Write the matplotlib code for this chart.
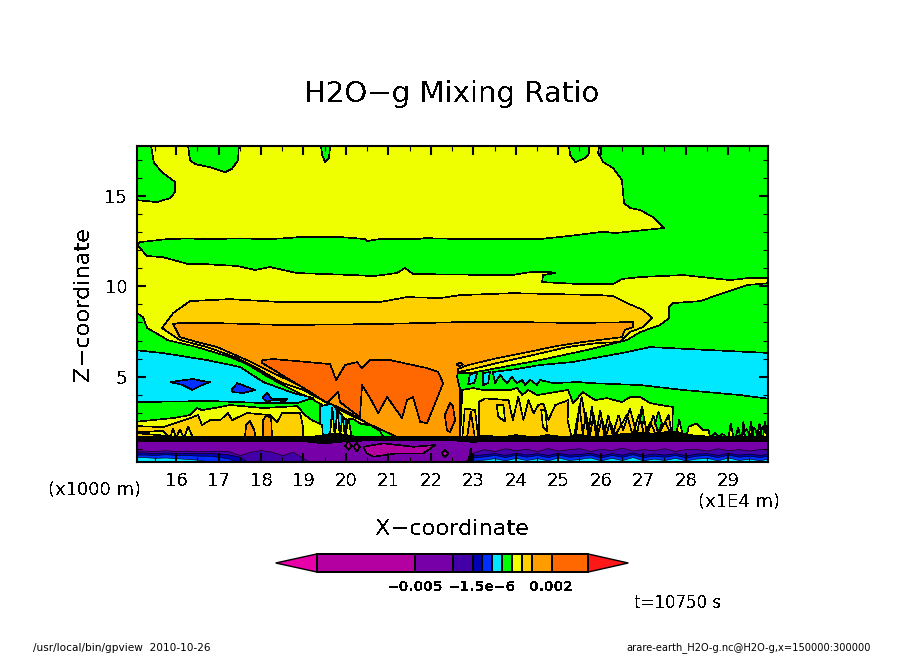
import numpy as np
import matplotlib
matplotlib.use('Agg')
import matplotlib.pyplot as plt

plt.rcParams['font.family'] = ['DejaVu Sans']
plt.rcParams['text.antialiased'] = False

WIDTH, HEIGHT = 904, 654

# shading colours, one per contour interval
MAGENTA_END = '#e800a8'
MAGENTA = '#b400a0'
PURPLE = '#7800a8'
INDIGO = '#4400a8'
DARK_BLUE = '#0000b4'
BLUE = '#0030ff'
CYAN = '#00e8ff'
GREEN = '#00ff00'
YELLOW = '#f0ff00'
GOLD = '#ffd000'
ORANGE = '#ff9c00'
DARK_ORANGE = '#ff6800'
RED_END = '#ff1818'

x_ticks = list(range(16, 30))
z_ticks = [5, 10, 15]

# contour regions, x in 1e4 m, z in km
upper_yellow_x = [15.41, 15.48, 15.69, 15.98, 15.98, 15.86, 15.55, 15.08, 15.08, 15.15, 15.81, 16.28, 16.68, 17.51,
                  18.21, 18.61, 18.92, 19.86, 20.45, 20.5, 20.8, 21.68, 21.86, 22.69, 24.57, 25.11, 26.06, 26.34,
                  27.0, 27.49, 27.23, 26.93, 26.69, 26.55, 26.5, 26.29, 26.06, 25.94, 25.96]
upper_yellow_z = [17.75, 16.81, 16.26, 15.76, 15.21, 14.87, 14.65, 14.76, 12.28, 12.44, 12.61, 12.64, 12.61, 12.64,
                  12.61, 12.66, 12.72, 12.72, 12.61, 12.5, 12.61, 12.61, 12.66, 12.61, 12.61, 12.74, 13.01, 12.94,
                  13.1, 13.22, 13.82, 14.21, 14.32, 14.6, 15.87, 16.53, 16.86, 17.36, 17.75]
blob1_x = [16.28, 16.31, 16.33, 16.45, 16.8, 17.15, 17.32, 17.46, 17.48]
blob1_z = [17.8, 17.25, 16.97, 16.75, 16.58, 16.3, 16.5, 16.97, 17.8]
blob2_x = [19.41, 19.44, 19.51, 19.6, 19.63]
blob2_z = [17.8, 17.25, 16.86, 17.08, 17.8]
blob3_x = [25.25, 25.28, 25.4, 25.63, 25.73, 25.73]
blob3_z = [17.8, 17.25, 16.86, 17.08, 17.36, 17.8]

lower_yellow_x = [15.08, 15.32, 15.69, 16.28, 16.64, 17.44, 17.86, 18.21, 18.85, 20.17, 20.64, 21.2, 21.39, 21.58,
                  22.69, 23.23, 23.91, 24.34, 24.81, 24.93, 24.64, 24.62, 25.51, 26.29, 26.5, 26.93, 27.94, 29.05,
                  29.45, 30.0, 30.0, 29.45, 28.88, 28.34, 27.7, 27.61, 27.61, 27.4, 26.93, 26.62, 25.68, 24.57,
                  23.56, 22.92, 22.64, 22.0, 20.26, 19.44, 19.2, 18.85, 18.21, 17.67, 17.27, 16.49, 15.79, 15.69,
                  15.32, 15.22, 15.08]
lower_yellow_z = [12.28, 11.67, 11.61, 11.23, 11.23, 11.12, 10.9, 11.06, 10.73, 10.62, 10.56, 10.73, 11.01, 10.67,
                  10.65, 10.62, 10.62, 10.78, 10.78, 10.73, 10.62, 10.23, 10.12, 10.12, 10.4, 10.51, 10.62, 10.34,
                  10.45, 10.45, 10.18, 10.07, 9.62, 9.18, 9.07, 8.85, 8.24, 7.86, 7.47, 7.03, 6.48, 5.92,
                  5.48, 5.2, 5.2, 3.0, 2.31, 3.44, 3.77, 4.15, 4.93, 5.7, 6.09, 6.64, 7.03, 7.19,
                  7.69, 8.3, 8.52]
gold_x = [15.67, 15.93, 16.33, 17.27, 18.45, 19.93, 20.8, 21.44, 22.22, 22.69, 23.94, 25.98, 26.29, 26.62, 27.0,
          27.21, 27.0, 26.69, 26.46, 25.91, 25.21, 24.41, 23.56, 22.88, 22.64, 22.0, 21.04, 20.1, 19.56, 18.99,
          18.45, 17.91, 17.44, 16.73, 16.09]
gold_z = [7.69, 8.52, 9.18, 9.29, 9.13, 9.13, 9.13, 9.4, 9.35, 9.51, 9.62, 9.51, 9.46, 9.07, 8.69,
          8.24, 7.75, 7.47, 6.92, 6.86, 6.64, 6.2, 5.76, 5.37, 5.26, 2.5, 1.89, 2.88, 3.55, 4.27,
          4.71, 5.48, 6.04, 6.64, 7.03]
orange_x = [15.93, 16.09, 16.87, 18.52, 20.73, 22.69, 24.1, 25.4, 26.76, 26.76, 26.57, 26.5, 25.58, 24.97, 24.27,
            23.56, 22.88, 22.64, 22.62, 22.69, 22.69, 21.2, 20.5, 20.1, 19.56, 18.99, 18.29, 17.67, 16.97, 16.49,
            16.09]
orange_z = [7.91, 7.97, 7.97, 7.86, 7.91, 8.02, 8.02, 7.97, 8.02, 7.75, 7.58, 7.19, 6.92, 6.7, 6.36,
            6.03, 5.65, 5.43, 4.98, 4.27, 1.67, 1.67, 2.44, 2.99, 3.6, 4.43, 5.2, 5.92, 6.64, 6.92,
            7.19]
nose_x = [22.6, 22.68, 22.76, 22.68]
nose_z = [5.68, 5.78, 5.68, 5.58]
dark_orange_x = [18.03, 18.29, 19.63, 19.77, 19.98, 20.26, 20.38, 20.57, 21.04, 21.91, 22.17, 22.29, 22.15, 21.91,
                 21.75, 21.58, 21.44, 21.32, 20.97, 20.76, 20.57, 20.38, 20.33, 20.17, 19.86, 19.82, 19.56, 19.08,
                 18.38, 18.03]
dark_orange_z = [5.92, 5.98, 5.7, 4.82, 5.65, 5.81, 5.48, 5.92, 5.92, 5.48, 5.26, 4.65, 3.82, 2.44,
                 2.5, 3.88, 3.71, 2.72, 3.88, 2.99, 3.82, 4.54, 2.77, 3.05, 3.6, 4.15, 3.55, 4.27,
                 5.26, 5.76]
lens_x = [22.45, 22.33, 22.38, 22.45, 22.57, 22.52]
lens_z = [3.55, 2.88, 2.05, 1.94, 2.6, 3.38]

right_cyan_x = [23.46, 24.03, 24.57, 25.33, 26.5, 27.16, 28.51, 30.0, 30.0, 29.28, 27.94, 26.93, 25.75, 25.47, 24.88,
                24.57, 24.5, 24.34, 24.22, 24.15, 24.03, 23.91, 23.79, 23.63, 23.51]
right_cyan_z = [5.26, 5.43, 5.65, 5.81, 6.31, 6.64, 6.48, 6.31, 3.77, 3.99, 4.27, 4.54, 4.65, 4.71, 4.65,
                4.82, 4.54, 4.82, 4.54, 4.82, 4.65, 4.98, 4.65, 5.09, 4.65]
cyan_patch1_x = [23.23, 23.39, 23.35, 23.23]
cyan_patch1_z = [5.2, 5.26, 4.65, 4.54]
cyan_patch2_x = [22.92, 23.09, 23.02, 22.88]
cyan_patch2_z = [5.15, 5.2, 4.65, 4.6]
left_cyan_x = [15.0, 15.69, 16.73, 17.51, 18.05, 18.76, 19.23, 18.85, 18.05, 16.8, 15.0]
left_cyan_z = [6.48, 6.31, 5.92, 5.54, 4.71, 4.1, 3.83, 3.55, 3.55, 3.66, 3.6]
blue_patch1_x = [15.86, 16.4, 16.61, 16.8, 16.61, 16.38, 16.16]
blue_patch1_z = [4.71, 4.88, 4.77, 4.71, 4.54, 4.27, 4.54]
blue_patch2_x = [17.3, 17.44, 17.86, 17.58, 17.34]
blue_patch2_z = [4.27, 4.65, 4.27, 4.1, 4.15]
blue_patch3_x = [18.03, 18.14, 18.26, 18.61, 18.57, 18.26, 18.14]
blue_patch3_z = [3.83, 4.1, 3.77, 3.77, 3.66, 3.71, 3.6]

left_yellow_x = [15.0, 15.93, 16.33, 16.49, 16.61, 17.04, 17.27, 18.05, 18.85, 19.04, 19.2, 19.44, 19.46, 15.0]
left_yellow_z = [2.5, 2.72, 2.88, 3.27, 3.16, 3.33, 3.44, 3.27, 3.38, 2.88, 2.6, 2.33, 1.6, 1.6]
left_gold_x = [15.0, 15.69, 16.33, 16.52, 16.61, 16.8, 17.04, 17.22, 17.32, 17.67, 18.21, 18.38, 18.5, 18.92, 18.99,
               18.99, 15.0]
left_gold_z = [2.28, 2.22, 2.72, 2.88, 2.33, 2.6, 2.6, 3.0, 2.6, 3.0, 2.88, 2.5, 3.0, 3.0, 2.22,
               1.6, 1.6]
left_valley_x = [15.0, 15.69, 15.86, 15.93, 16.0, 16.09, 16.19, 16.28, 16.4]
left_valley_z = [1.9, 2.02, 1.6, 2.16, 1.6, 2.1, 1.6, 2.27, 1.6]
orange_lens1_x = [17.62, 17.65, 17.74, 17.84, 17.88]
orange_lens1_z = [1.6, 2.33, 2.55, 2.05, 1.6]
orange_lens2_x = [18.05, 18.05, 18.12, 18.24, 18.26]
orange_lens2_z = [1.6, 2.6, 2.88, 2.72, 1.6]
mid_cyan_x = [19.39, 19.67, 19.98, 20.2, 20.5, 20.3, 19.87, 19.39]
mid_cyan_z = [3.38, 3.5, 2.66, 2.2, 1.6, 1.6, 1.6, 1.6]
mid_green_x = [20.0, 20.15, 20.35, 20.6, 20.8, 20.9, 20.0]
mid_green_z = [2.6, 2.7, 2.4, 2.3, 2.0, 1.6, 1.6]
mid_yellow_x = [19.62, 19.68, 19.74, 19.8, 19.86, 19.92, 19.98, 20.06, 20.14]
mid_yellow_z = [1.6, 3.3, 1.6, 3.3, 1.6, 2.9, 1.6, 2.7, 1.6]

right_yellow_x = [22.74, 22.99, 23.23, 23.87, 24.03, 24.15, 24.29, 24.5, 25.23, 25.35, 25.58, 25.87, 26.15, 26.5,
                  26.69, 26.93, 27.16, 27.4, 27.7, 27.68, 22.69]
right_yellow_z = [4.27, 4.38, 4.27, 4.27, 4.38, 3.99, 4.27, 3.99, 4.27, 3.55, 4.15, 3.71, 3.82, 3.6,
                  3.88, 3.88, 3.55, 3.44, 3.33, 1.6, 1.6]
right_gold_x = [23.14, 23.28, 23.83, 23.93, 24.06, 24.18, 24.3, 24.42, 24.53, 24.65, 24.77, 24.93, 25.24, 25.22,
                25.32, 23.14]
right_gold_z = [3.62, 3.8, 3.71, 2.61, 3.9, 2.61, 3.71, 2.98, 3.44, 3.53, 2.61, 3.44, 3.71, 2.61,
                1.6, 1.6]
gold_hole1_x = [23.55, 23.71, 23.75, 23.59]
gold_hole1_z = [3.44, 3.44, 2.52, 2.79]
gold_hole2_x = [24.6, 24.7, 24.74, 24.64]
gold_hole2_z = [3.2, 3.1, 2.0, 2.2]
near_gold_x = [22.74, 22.8, 23.04, 23.12, 22.74]
near_gold_z = [1.6, 3.25, 3.16, 1.6, 1.6]
near_orange_x = [22.85, 22.94, 23.04]
near_orange_z = [1.6, 3.07, 1.6]
spikes_gold_x = [25.36, 25.55, 25.71, 25.79, 25.89, 25.99, 26.08, 26.18, 26.28, 26.42, 26.53, 26.69, 26.85, 26.97,
                 27.1, 27.24, 27.36, 27.6, 27.69]
spikes_gold_z = [1.6, 3.9, 1.78, 3.34, 1.78, 3.16, 1.78, 2.88, 1.78, 2.88, 2.05, 3.25, 1.78, 3.34,
                 1.78, 2.88, 1.78, 2.88, 1.6]
spike_line_x = [25.42, 25.5, 25.58, 25.65, 25.75, 25.83, 25.93, 26.03, 26.13, 26.22, 26.35, 26.47, 26.62, 26.75,
                26.9, 27.03, 27.17, 27.3, 27.52, 27.66]
spike_line_z = [1.78, 3.4, 1.78, 3.0, 1.78, 2.9, 1.78, 2.7, 1.78, 2.5, 1.78, 2.3, 2.9, 1.78,
                2.9, 1.78, 2.5, 1.78, 2.5, 1.78]
green_lens1_x = [27.28, 27.36, 27.44, 27.36]
green_lens1_z = [2.42, 3.07, 2.42, 1.96]
green_lens2_x = [26.93, 26.98, 27.02, 26.97]
green_lens2_z = [2.61, 3.34, 2.61, 2.33]
end_yellow_x = [27.75, 27.85, 27.95, 28.03, 28.07, 28.26, 28.42, 28.54, 28.58, 29.01, 29.06, 29.13, 29.32, 29.36,
                29.4, 29.48, 29.54, 29.6, 29.67, 29.74, 29.79, 29.82, 29.87, 29.94]
end_yellow_z = [1.6, 2.61, 1.6, 1.78, 2.24, 2.42, 2.05, 2.05, 1.6, 1.6, 2.42, 1.6, 1.6, 2.52,
                1.6, 1.6, 2.52, 1.6, 1.6, 2.42, 1.6, 1.6, 2.52, 1.6]
end_cyan_x = [29.33, 29.36, 29.39, 29.75, 29.77, 29.79]
end_cyan_z = [1.6, 2.3, 1.6, 1.6, 2.2, 1.6]
end_line_x = [28.62, 28.7, 28.78, 28.86, 28.94, 29.18, 29.24, 29.28, 29.44, 29.52, 29.62, 29.7, 29.84, 29.92]
end_line_z = [1.7, 1.9, 1.7, 1.85, 1.7, 1.7, 2.2, 1.7, 2.1, 1.7, 2.2, 1.7, 2.3, 1.7]

magenta_patch_x = [20.41, 20.88, 21.59, 22.1, 21.83, 21.2, 20.65, 20.49]
magenta_patch_z = [1.13, 1.32, 1.13, 1.23, 0.77, 0.77, 0.58, 0.77]
diamond1_x = [19.98, 20.06, 20.14, 20.06]
diamond1_z = [1.19, 1.41, 1.19, 0.95]
diamond2_x = [20.19, 20.25, 20.33, 20.25]
diamond2_z = [1.13, 1.35, 1.13, 0.86]
diamond3_x = [22.26, 22.33, 22.41, 22.33]
diamond3_z = [0.77, 0.95, 0.77, 0.55]
dark_wedge_x = [22.88, 22.94, 23.0]
dark_wedge_z = [0.25, 1.04, 0.25]

# boundaries of the low level bands, every 0.25 in x from 15 to 30
base_x = np.arange(15.0, 30.01, 0.25)
indigo_top = [0.92, 0.92, 0.9, 0.94, 0.9, 0.92, 0.88, 0.9, 0.92, 0.88,
              0.67, 0.86, 0.95, 0.86, 0.67, 0.86, 0.49, 0.2, 0.2, 0.2,
              0.2, 0.2, 0.2, 0.2, 0.2, 0.2, 0.2, 0.2, 0.2, 0.2,
              0.2, 0.2, 0.82, 1.0, 0.9, 1.05, 0.94, 1.02, 0.9, 1.06,
              0.92, 1.0, 1.05, 0.9, 1.02, 0.94, 1.08, 0.92, 1.0, 0.94,
              1.05, 0.9, 1.0, 1.02, 0.92, 1.05, 0.94, 1.0, 0.92, 1.02, 0.96]
dark_blue_top = [0.82, 0.82, 0.78, 0.82, 0.8, 0.8, 0.78, 0.78, 0.76, 0.7,
                 0.58, 0.2, 0.2, 0.2, 0.2, 0.2, 0.2, 0.2, 0.2, 0.2,
                 0.2, 0.2, 0.2, 0.2, 0.2, 0.2, 0.2, 0.2, 0.2, 0.2,
                 0.2, 0.2, 0.66, 0.72, 0.78, 0.68, 0.8, 0.7, 0.78, 0.68,
                 0.8, 0.7, 0.74, 0.8, 0.66, 0.78, 0.7, 0.82, 0.68, 0.76,
                 0.7, 0.78, 0.66, 0.76, 0.78, 0.68, 0.8, 0.7, 0.76, 0.68, 0.78]
blue_top = [0.7, 0.7, 0.68, 0.72, 0.68, 0.68, 0.64, 0.64, 0.58, 0.48,
            0.2, 0.2, 0.2, 0.2, 0.2, 0.2, 0.2, 0.2, 0.2, 0.2,
            0.2, 0.2, 0.2, 0.2, 0.2, 0.2, 0.2, 0.2, 0.2, 0.2,
            0.2, 0.2, 0.54, 0.6, 0.68, 0.56, 0.7, 0.58, 0.68, 0.56,
            0.7, 0.58, 0.62, 0.7, 0.54, 0.68, 0.58, 0.72, 0.56, 0.64,
            0.58, 0.68, 0.54, 0.64, 0.68, 0.56, 0.7, 0.58, 0.64, 0.56, 0.68]
cyan_top = [0.56, 0.56, 0.52, 0.54, 0.5, 0.46, 0.42, 0.32, 0.2, 0.2,
            0.2, 0.2, 0.2, 0.2, 0.2, 0.2, 0.2, 0.2, 0.2, 0.2,
            0.2, 0.2, 0.2, 0.2, 0.2, 0.2, 0.2, 0.2, 0.2, 0.2,
            0.2, 0.2, 0.36, 0.42, 0.5, 0.38, 0.52, 0.4, 0.5, 0.38,
            0.54, 0.4, 0.46, 0.54, 0.38, 0.52, 0.4, 0.56, 0.38, 0.48,
            0.4, 0.52, 0.38, 0.48, 0.52, 0.38, 0.54, 0.4, 0.48, 0.38, 0.52]
black_top = [1.68, 1.7, 1.7, 1.72, 1.7, 1.7, 1.72, 1.7, 1.72, 1.7,
             1.7, 1.72, 1.7, 1.7, 1.72, 1.7, 1.7, 1.72, 1.8, 1.9,
             1.8, 1.7, 1.7, 1.68, 1.68, 1.7, 1.68, 1.68, 1.68, 1.68,
             1.68, 1.7, 1.7, 1.76, 1.72, 1.7, 1.8, 1.72, 1.7, 1.8,
             1.72, 1.7, 1.82, 1.72, 1.7, 1.75, 1.85, 1.9, 1.95, 1.85,
             1.95, 2.0, 1.85, 1.75, 1.72, 1.7, 1.7, 1.74, 1.7, 1.72, 1.7]
black_bottom = [1.42, 1.44, 1.42, 1.44, 1.42, 1.44, 1.42, 1.44, 1.42, 1.44,
                1.42, 1.44, 1.42, 1.4, 1.42, 1.44, 1.42, 1.36, 1.3, 1.36,
                1.42, 1.44, 1.46, 1.46, 1.46, 1.46, 1.46, 1.46, 1.46, 1.46,
                1.46, 1.44, 1.38, 1.42, 1.44, 1.4, 1.42, 1.44, 1.4, 1.42,
                1.44, 1.4, 1.42, 1.44, 1.4, 1.42, 1.44, 1.4, 1.42, 1.44,
                1.4, 1.42, 1.44, 1.4, 1.42, 1.44, 1.4, 1.42, 1.44, 1.4, 1.42]

# colour bar
cbar_colors = [MAGENTA, PURPLE, INDIGO, DARK_BLUE, BLUE, CYAN, GREEN, YELLOW, GOLD, ORANGE, DARK_ORANGE]
cbar_edges = [0, 295, 410, 470, 495, 527, 557, 587, 617, 647, 705, 815]
cbar_tick_edges = [295, 495, 705]
cbar_tick_labels = ['\u22120.005', '\u22121.5e\u22126', '0.002']


def fig_x(px: float) -> float:
    return px / WIDTH


def fig_y(py: float) -> float:
    return 1 - py / HEIGHT


def add_axes_px(fig, left, top, right, bottom):
    return fig.add_axes([fig_x(left), fig_y(bottom), (right - left) / WIDTH, (bottom - top) / HEIGHT])


def fill_region(ax, xs, zs, color, lw=0.45):
    ax.fill(xs, zs, facecolor=color, edgecolor='black', linewidth=lw, antialiased=False)


def fill_band(ax, tops, color):
    ax.fill_between(base_x, 0, tops, facecolor=color, edgecolor='black', linewidth=0.45, antialiased=False)


def draw_field(ax):
    ax.set_facecolor(GREEN)
    fill_region(ax, upper_yellow_x, upper_yellow_z, YELLOW)
    fill_region(ax, blob1_x, blob1_z, GREEN)
    fill_region(ax, blob2_x, blob2_z, GREEN)
    fill_region(ax, blob3_x, blob3_z, GREEN)
    fill_region(ax, lower_yellow_x, lower_yellow_z, YELLOW)
    fill_region(ax, left_cyan_x, left_cyan_z, CYAN)
    fill_region(ax, right_cyan_x, right_cyan_z, CYAN)
    fill_region(ax, cyan_patch1_x, cyan_patch1_z, CYAN)
    fill_region(ax, cyan_patch2_x, cyan_patch2_z, CYAN)
    fill_region(ax, blue_patch1_x, blue_patch1_z, BLUE)
    fill_region(ax, blue_patch2_x, blue_patch2_z, BLUE)
    fill_region(ax, blue_patch3_x, blue_patch3_z, BLUE)
    fill_region(ax, gold_x, gold_z, GOLD)
    fill_region(ax, mid_cyan_x, mid_cyan_z, CYAN)
    fill_region(ax, mid_green_x, mid_green_z, GREEN)
    fill_region(ax, mid_yellow_x, mid_yellow_z, YELLOW)
    fill_region(ax, orange_x, orange_z, ORANGE)
    fill_region(ax, nose_x, nose_z, ORANGE)
    fill_region(ax, dark_orange_x, dark_orange_z, DARK_ORANGE)
    fill_region(ax, lens_x, lens_z, DARK_ORANGE)
    fill_region(ax, left_yellow_x, left_yellow_z, YELLOW)
    fill_region(ax, left_gold_x, left_gold_z, GOLD)
    fill_region(ax, left_valley_x, left_valley_z, YELLOW)
    fill_region(ax, orange_lens1_x, orange_lens1_z, ORANGE)
    fill_region(ax, orange_lens2_x, orange_lens2_z, ORANGE)
    fill_region(ax, right_yellow_x, right_yellow_z, YELLOW)
    fill_region(ax, right_gold_x, right_gold_z, GOLD)
    fill_region(ax, gold_hole1_x, gold_hole1_z, YELLOW)
    fill_region(ax, gold_hole2_x, gold_hole2_z, YELLOW)
    fill_region(ax, near_gold_x, near_gold_z, GOLD)
    fill_region(ax, near_orange_x, near_orange_z, ORANGE)
    fill_region(ax, spikes_gold_x, spikes_gold_z, GOLD)
    fill_region(ax, green_lens1_x, green_lens1_z, GREEN)
    fill_region(ax, green_lens2_x, green_lens2_z, GREEN)
    ax.plot(spike_line_x, spike_line_z, color='black', linewidth=0.45, antialiased=False)
    fill_region(ax, end_yellow_x, end_yellow_z, YELLOW)
    fill_region(ax, end_cyan_x, end_cyan_z, CYAN)
    ax.plot(end_line_x, end_line_z, color='black', linewidth=0.45, antialiased=False)

    # low level bands
    ax.fill_between(base_x, 0, 1.6, facecolor=PURPLE, linewidth=0, antialiased=False)
    fill_band(ax, indigo_top, INDIGO)
    fill_band(ax, dark_blue_top, DARK_BLUE)
    fill_band(ax, blue_top, BLUE)
    fill_band(ax, cyan_top, CYAN)
    fill_region(ax, magenta_patch_x, magenta_patch_z, MAGENTA)
    fill_region(ax, diamond1_x, diamond1_z, MAGENTA)
    fill_region(ax, diamond2_x, diamond2_z, MAGENTA)
    fill_region(ax, diamond3_x, diamond3_z, MAGENTA)
    fill_region(ax, dark_wedge_x, dark_wedge_z, 'black')
    ax.fill_between(base_x, black_bottom, black_top, facecolor='black', linewidth=0, antialiased=False)


def style_axes(ax):
    ax.set_xlim(15.08, 29.94)
    ax.set_ylim(0.29, 17.75)
    ax.set_xticks(x_ticks)
    ax.set_xticks(np.arange(15.5, 30, 1), minor=True)
    ax.set_yticks(z_ticks)
    ax.set_yticks(range(1, 18), minor=True)
    ax.tick_params(which='major', direction='in', length=6.5, width=1.5, top=True, right=True, labelsize=13, pad=7)
    ax.tick_params(which='minor', direction='in', length=3.5, width=0.8, top=True, right=True)
    for spine in ax.spines.values():
        spine.set_linewidth(1.5)
        spine.set_zorder(10)


def draw_colorbar(fig):
    cax = add_axes_px(fig, 275.7, 554, 628.3, 572)
    cax.set_xlim(-123, 935)
    cax.set_ylim(0, 1)
    for spine in cax.spines.values():
        spine.set_visible(False)
    cax.set_yticks([])
    lefts = cbar_edges[:-1]
    widths = np.diff(cbar_edges)
    cax.barh(0.5, widths, left=lefts, height=1, color=cbar_colors, edgecolor='black', linewidth=1.2,
             antialiased=False, clip_on=False)
    cax.fill([0, -123, 0], [0, 0.5, 1], facecolor=MAGENTA_END, edgecolor='black', linewidth=1.0, clip_on=False)
    cax.fill([815, 935, 815], [0, 0.5, 1], facecolor=RED_END, edgecolor='black', linewidth=1.0, clip_on=False)
    cax.set_xticks(cbar_tick_edges)
    cax.set_xticklabels(cbar_tick_labels, fontsize=10, fontweight='bold')
    cax.tick_params(axis='x', length=0, pad=6)


fig = plt.figure(figsize=(WIDTH / 100, HEIGHT / 100), dpi=100)
ax = add_axes_px(fig, 137, 146, 768, 462)
draw_field(ax)
style_axes(ax)
draw_colorbar(fig)

fig.text(fig_x(452), fig_y(94), 'H2O\u2212g Mixing Ratio', fontsize=21, ha='center', va='center')
fig.text(fig_x(452), fig_y(529), 'X\u2212coordinate', fontsize=16.2, ha='center', va='center')
fig.text(fig_x(83), fig_y(304), 'Z\u2212coordinate', fontsize=16.2, ha='center', va='center', rotation=90)
fig.text(fig_x(95), fig_y(490), '(x1000 m)', fontsize=13, ha='center', va='center')
fig.text(fig_x(739), fig_y(502), '(x1E4 m)', fontsize=13, ha='center', va='center')
fig.text(fig_x(678), fig_y(603), 't=10750 s', fontsize=12, ha='center', va='center')
# aliased text loses thin glyphs at this size
fig.text(fig_x(33), fig_y(648), '/usr/local/bin/gpview  2010-10-26', fontsize=7.6, ha='left', va='center',
         antialiased=True)
fig.text(fig_x(871), fig_y(648), 'arare-earth_H2O-g.nc@H2O-g,x=150000:300000', fontsize=7.1, ha='right', va='center',
         antialiased=True)

fig.savefig('out.png', dpi=100)
